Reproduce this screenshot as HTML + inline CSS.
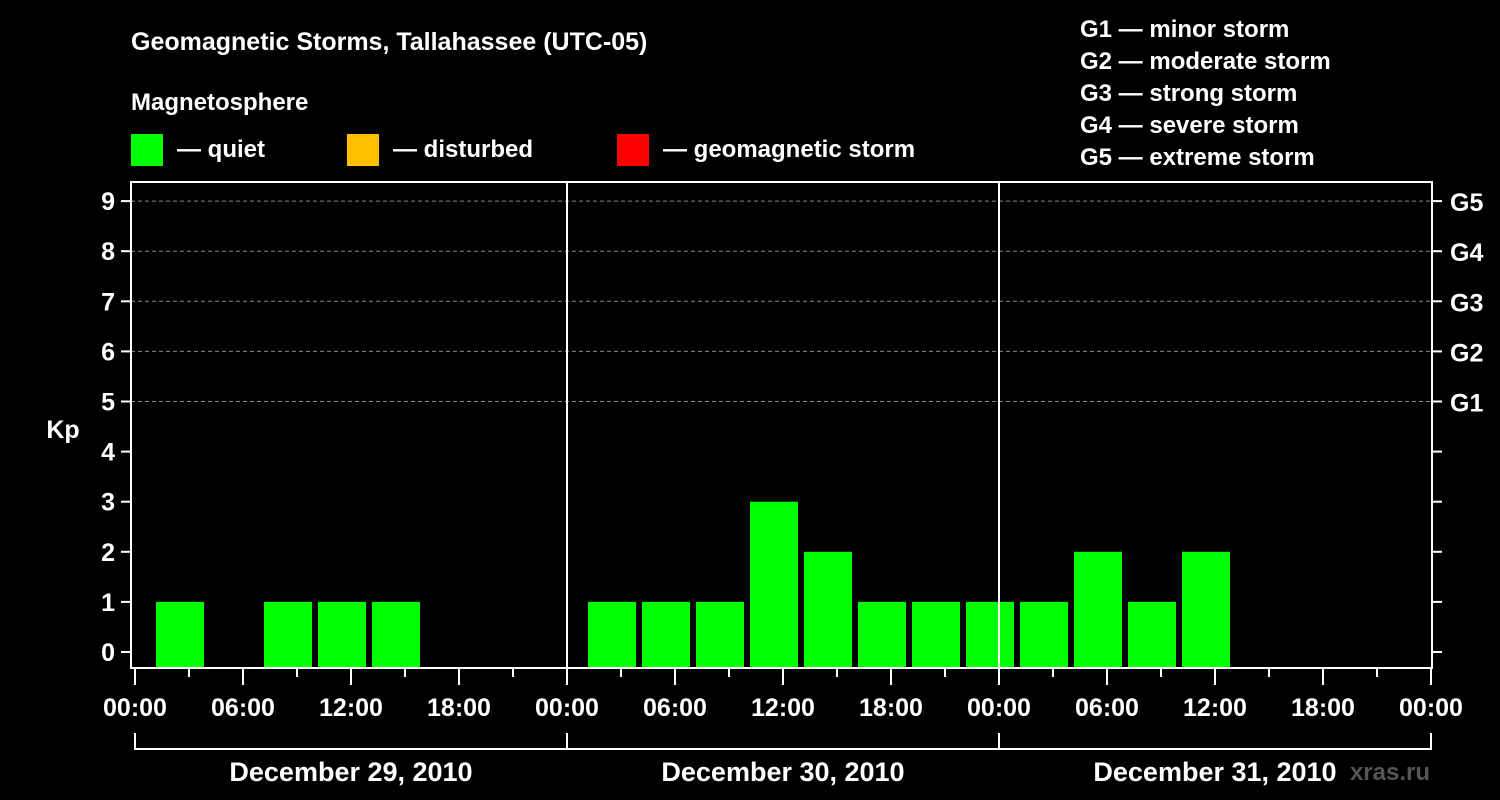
<!DOCTYPE html>
<html><head><meta charset="utf-8"><style>
html,body{margin:0;padding:0;background:#000;}
svg{display:block;font-family:"Liberation Sans",sans-serif;font-weight:bold;}
</style></head><body>
<svg id="chart" width="1500" height="800" viewBox="0 0 1500 800">
<rect width="1500" height="800" fill="#000"/>
<text x="131" y="50" fill="#fff" font-size="25">Geomagnetic Storms, Tallahassee (UTC-05)</text>
<text x="131" y="110" fill="#fff" font-size="24">Magnetosphere</text>
<g><rect x="131" y="134" width="32" height="32" fill="#00ff00"/><text x="177" y="157" fill="#fff" font-size="24">— quiet</text></g>
<g><rect x="347" y="134" width="32" height="32" fill="#ffbf00"/><text x="393" y="157" fill="#fff" font-size="24">— disturbed</text></g>
<g><rect x="617" y="134" width="32" height="32" fill="#ff0000"/><text x="663" y="157" fill="#fff" font-size="24">— geomagnetic storm</text></g>
<g fill="#fff" font-size="24">
<text x="1080" y="37">G1 — minor storm</text>
<text x="1080" y="69">G2 — moderate storm</text>
<text x="1080" y="101">G3 — strong storm</text>
<text x="1080" y="133">G4 — severe storm</text>
<text x="1080" y="165">G5 — extreme storm</text>
</g>
<text x="63" y="438" fill="#fff" font-size="25" text-anchor="middle">Kp</text>
<text x="1430" y="780" fill="#555" font-size="24" text-anchor="end">xras.ru</text>
<g id="grid"></g>
<g id="bars"></g>
<g id="axes"></g>
</svg>
<script>
const slotValues = [1,null,1,1,1,null,null,null,1,1,1,3,2,1,1,1,1,2,1,2,null,null,null,null];
const dayLabels = ["December 29, 2010","December 30, 2010","December 31, 2010"];
const yTicks = [0,1,2,3,4,5,6,7,8,9];
const gLabels = ["G1","G2","G3","G4","G5"];
const gLevels = [5,6,7,8,9];
const hourLabels = ["00:00","06:00","12:00","18:00"];

const NS="http://www.w3.org/2000/svg";
const X0=135, HOUR=18, PL=131, PR=1432, PT=182, PB=668;
const xs=h=>X0+h*HOUR;
const ys=v=>652-v*50.1;
function mk(tag,attrs,parent){const e=document.createElementNS(NS,tag);for(const k in attrs)e.setAttribute(k,attrs[k]);parent.appendChild(e);return e;}
const grid=document.getElementById('grid'),bars=document.getElementById('bars'),axes=document.getElementById('axes');

gLevels.forEach((v,i)=>{
  const l=mk('line',{x1:PL,x2:PR,y1:ys(v),y2:ys(v),stroke:'#888','stroke-dasharray':'4,3','stroke-width':1},grid);
  
  
  const t=mk('text',{x:1450,y:ys(v)+10,fill:'#fff','font-size':25},axes);
  t.textContent=gLabels[i];
  
  
});

slotValues.forEach((v,k)=>{
  if(v===null)return;
  const cx=xs(2.5+3*k);
  const r=mk('rect',{x:cx-24,y:ys(v),width:48,height:PB-ys(v),fill:'#00ff00'},bars);
  
  
});

const frame=mk('rect',{x:PL,y:PT,width:PR-PL,height:PB-PT,fill:'none',stroke:'#fff','stroke-width':2},axes);


[1,2].forEach(d=>{
  const l=mk('line',{x1:xs(24*d),x2:xs(24*d),y1:PT,y2:PB,stroke:'#fff','stroke-width':2},axes);
  
  
});
yTicks.forEach(v=>{
  mk('line',{x1:121,x2:PL,y1:ys(v),y2:ys(v),stroke:'#fff','stroke-width':2},axes);
  mk('line',{x1:PR,x2:1442,y1:ys(v),y2:ys(v),stroke:'#fff','stroke-width':2},axes);
  const t=mk('text',{x:115,y:ys(v)+9,fill:'#fff','font-size':25,'text-anchor':'end'},axes);
  t.textContent=v;
  
  
});
for(let h=0;h<=72;h+=3){
  const major=h%6===0;
  mk('line',{x1:xs(h),x2:xs(h),y1:PB,y2:major?685:677,stroke:'#fff','stroke-width':2},axes);
  if(major){
    const t=mk('text',{x:xs(h),y:716,fill:'#fff','font-size':25,'text-anchor':'middle'},axes);
    t.textContent=hourLabels[(h/6)%4];
    
    
  }
}
dayLabels.forEach((d,i)=>{
  const a=xs(24*i),b=xs(24*i+24);
  mk('path',{d:`M${a},733 V749 H${b} V733`,stroke:'#fff','stroke-width':2,fill:'none'},axes);
  const t=mk('text',{x:(a+b)/2,y:781,fill:'#fff','font-size':27,'text-anchor':'middle'},axes);
  t.textContent=d;
  
  
});
</script>
</body></html>
